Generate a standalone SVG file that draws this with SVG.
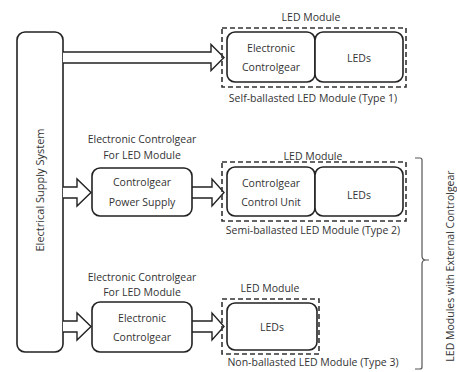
<svg xmlns="http://www.w3.org/2000/svg" width="457" height="372" viewBox="0 0 457 372">
<style>
.box{fill:#fff;stroke:#222;stroke-width:1.6}
.dash{fill:none;stroke:#333;stroke-width:1.6;stroke-dasharray:5,3}
.arr{fill:#fff;stroke:#222;stroke-width:1.4;stroke-linejoin:miter}
.t{font-family:"Open Sans","Liberation Sans",Arial,sans-serif;font-size:10.5px;fill:#333;text-anchor:middle}
.br{fill:none;stroke:#555;stroke-width:1.2}
</style>
<rect width="457" height="372" fill="#fff"/>
<g id="supply">
<rect class="box" x="17" y="32" width="46" height="320" rx="8"/>
<text class="t" transform="translate(44,190) rotate(-90)" style="font-size:11px">Electrical Supply System</text>
</g>
<g id="connectors">
<path class="arr" d="M63,52 H211 V44.5 L224,57.5 L211,70.5 V63 H63"/>
<path class="arr" d="M63,187 H77 V179 L91,192.5 L77,206 V198 H63"/>
<path class="arr" d="M192,187 H212 V179 L224,192.5 L212,206 V198 H192"/>
<path class="arr" d="M63,321 H77 V313 L91,326.5 L77,340 V332 H63"/>
<path class="arr" d="M192,321 H212 V313 L224,326.5 L212,340 V332 H192"/>
</g>
<g id="type1">
<text class="t" x="311" y="21">LED Module</text>
<rect class="dash" x="222" y="28" width="184" height="59"/>
<rect class="box" x="227" y="32" width="88" height="50" rx="8"/>
<rect class="box" x="315" y="32" width="88" height="50" rx="8"/>
<text class="t" x="271" y="52">Electronic</text>
<text class="t" x="271" y="71">Controlgear</text>
<text class="t" x="359" y="62">LEDs</text>
<text class="t" x="313" y="102">Self-ballasted LED Module (Type 1)</text>
</g>
<g id="cps">
<text class="t" x="142" y="143">Electronic Controlgear</text>
<text class="t" x="142" y="159">For LED Module</text>
<rect class="box" x="92" y="168" width="100" height="48" rx="8"/>
<text class="t" x="142" y="186">Controlgear</text>
<text class="t" x="142" y="206">Power Supply</text>
</g>
<g id="type2">
<text class="t" x="313" y="160">LED Module</text>
<rect class="dash" x="222" y="162" width="184" height="59"/>
<rect class="box" x="227" y="167" width="88" height="49" rx="8"/>
<rect class="box" x="315" y="167" width="88" height="49" rx="8"/>
<text class="t" x="271" y="187">Controlgear</text>
<text class="t" x="271" y="206">Control Unit</text>
<text class="t" x="359" y="199">LEDs</text>
<text class="t" x="313" y="234">Semi-ballasted LED Module (Type 2)</text>
</g>
<g id="ec3">
<text class="t" x="142" y="281">Electronic Controlgear</text>
<text class="t" x="142" y="296">For LED Module</text>
<rect class="box" x="92" y="302" width="100" height="50" rx="8"/>
<text class="t" x="142" y="322">Electronic</text>
<text class="t" x="142" y="341">Controlgear</text>
</g>
<g id="type3">
<text class="t" x="270" y="292">LED Module</text>
<rect class="dash" x="222" y="299" width="97" height="55"/>
<rect class="box" x="227" y="303" width="90" height="47" rx="8"/>
<text class="t" x="272" y="331">LEDs</text>
<text class="t" x="313" y="366">Non-ballasted LED Module (Type 3)</text>
</g>
<g id="brace">
<path class="br" d="M415,158 H420 Q422,158 422,160 V256 Q422,260 426,260 H429 M426,260 Q422,260 422,264 V367 Q422,369 420,369 H415"/>
<text class="t" transform="translate(454,266) rotate(-90)">LED Modules with External Controlgear</text>
</g>
</svg>
